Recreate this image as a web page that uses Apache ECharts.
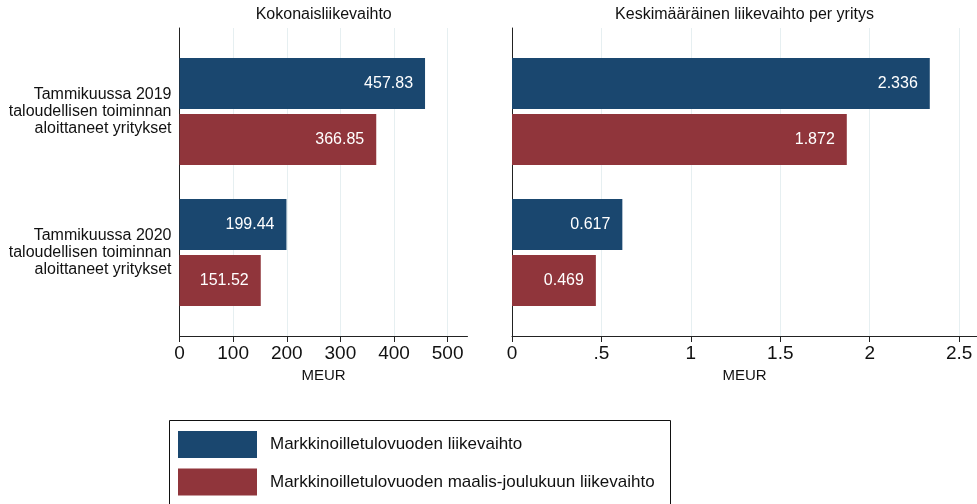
<!DOCTYPE html>
<html>
<head>
<meta charset="utf-8">
<script src="https://cdn.jsdelivr.net/npm/echarts@6/dist/echarts.min.js"></script>
<style>html,body{margin:0;padding:0;background:#fff}#c{width:977px;height:504px}</style>
</head>
<body>
<div id="c"></div>
<script>
const categories = ['Tammikuussa 2019\ntaloudellisen toiminnan\naloittaneet yritykset',
                    'Tammikuussa 2020\ntaloudellisen toiminnan\naloittaneet yritykset'];
const seriesNames = ['Markkinoilletulovuoden liikevaihto', 'Markkinoilletulovuoden maalis-joulukuun liikevaihto'];
const panelTitles = ['Kokonaisliikevaihto', 'Keskimääräinen liikevaihto per yritys'];
const totalFull = [457.83, 199.44];
const totalMarDec = [366.85, 151.52];
const avgFull = [2.336, 0.617];
const avgMarDec = [1.872, 0.469];
const leftTicks = [0, 100, 200, 300, 400, 500];
const rightTicks = [0, 0.5, 1, 1.5, 2, 2.5];
const rightTickLabels = ['0', '.5', '1', '1.5', '2', '2.5'];

const FONT = "'Liberation Sans', Arial, Helvetica, sans-serif";
const BLUE = '#1a476f', RED = '#90353b';
const AX = '#222';
const GRIDC = '#e6eff1';

const chart = echarts.init(document.getElementById('c'), null, {renderer: 'canvas'});

function frameX(gi, max, interval, ticks, fmt) {
  return {
    gridIndex: gi, type: 'value', min: 0, max: max, interval: interval,
    axisLine: {show: true, lineStyle: {color: AX, width: 1}},
    axisTick: {show: true, length: 6, lineStyle: {color: AX}, customValues: ticks},
    axisLabel: {show: true, fontFamily: FONT, fontSize: 19, color: '#111', margin: 8,
                customValues: ticks, formatter: fmt},
    splitLine: {show: true, lineStyle: {color: GRIDC, width: 1}, customValues: ticks},
    name: 'MEUR', nameLocation: 'middle', nameGap: 32,
    nameTextStyle: {fontFamily: FONT, fontSize: 15, color: '#111'}
  };
}
function barX(gi, max) {
  return {gridIndex: gi, type: 'value', min: 0, max: max, show: false, splitLine: {show: false}};
}
const labelCfg = {show: true, position: 'insideRight', distance: 12, color: '#fff',
                  fontFamily: FONT, fontSize: 16};

const option = {
  animation: false,
  backgroundColor: '#fff',
  title: [
    {text: panelTitles[0], left: 323.7, top: 7, padding: 0, textAlign: 'center',
     textStyle: {fontFamily: FONT, fontSize: 16, fontWeight: 'normal', color: '#111'}},
    {text: panelTitles[1], left: 744.5, top: 7, padding: 0, textAlign: 'center',
     textStyle: {fontFamily: FONT, fontSize: 16, fontWeight: 'normal', color: '#111'}}
  ],
  grid: [
    {left: 179.5, top: 28, width: 288, height: 308},
    {left: 512, top: 28, width: 465, height: 308},
    {left: 179.5, top: 41, width: 288, height: 282},
    {left: 512, top: 41, width: 465, height: 282}
  ],
  xAxis: [
    frameX(0, 537, 100, leftTicks, v => String(v)),
    frameX(1, 2.6, 0.5, rightTicks, v => rightTickLabels[rightTicks.indexOf(v)] ?? String(v)),
    barX(2, 537),
    barX(3, 2.6)
  ],
  yAxis: [
    {gridIndex: 0, type: 'value', axisLine: {show: true, lineStyle: {color: AX}}, axisTick: {show: false},
     axisLabel: {show: false}, splitLine: {show: false}},
    {gridIndex: 1, type: 'value', axisLine: {show: true, lineStyle: {color: AX}}, axisTick: {show: false},
     axisLabel: {show: false}, splitLine: {show: false}},
    {gridIndex: 2, type: 'category', data: categories, inverse: true,
     axisLine: {show: false}, axisTick: {show: false}, splitLine: {show: false},
     axisLabel: {show: true, fontFamily: FONT, fontSize: 16, lineHeight: 17, color: '#111', margin: 8, align: 'right'}},
    {gridIndex: 3, type: 'category', data: categories, inverse: true,
     axisLine: {show: false}, axisTick: {show: false}, splitLine: {show: false},
     axisLabel: {show: false}}
  ],
  legend: {
    left: 178, top: 431, orient: 'vertical', padding: 0,
    itemWidth: 79, itemHeight: 27, itemGap: 10.5, icon: 'rect',
    data: seriesNames,
    textStyle: {fontFamily: FONT, fontSize: 17, color: '#111', padding: [2, 0, 0, 8]}
  },
  graphic: [
    {type: 'rect', shape: {x: 169.5, y: 420.5, width: 501, height: 120},
     style: {fill: 'none', stroke: '#111', lineWidth: 1}, z: 0}
  ],
  series: [
    {name: seriesNames[0], type: 'bar', xAxisIndex: 2, yAxisIndex: 2, data: totalFull,
     itemStyle: {color: BLUE}, barWidth: 51, barGap: '10%', label: labelCfg},
    {name: seriesNames[1], type: 'bar', xAxisIndex: 2, yAxisIndex: 2, data: totalMarDec,
     itemStyle: {color: RED}, barWidth: 51, barGap: '10%', label: labelCfg},
    {name: seriesNames[0], type: 'bar', xAxisIndex: 3, yAxisIndex: 3, data: avgFull,
     itemStyle: {color: BLUE}, barWidth: 51, barGap: '10%', label: labelCfg},
    {name: seriesNames[1], type: 'bar', xAxisIndex: 3, yAxisIndex: 3, data: avgMarDec,
     itemStyle: {color: RED}, barWidth: 51, barGap: '10%', label: labelCfg}
  ]
};
chart.setOption(option);
</script>
</body>
</html>
